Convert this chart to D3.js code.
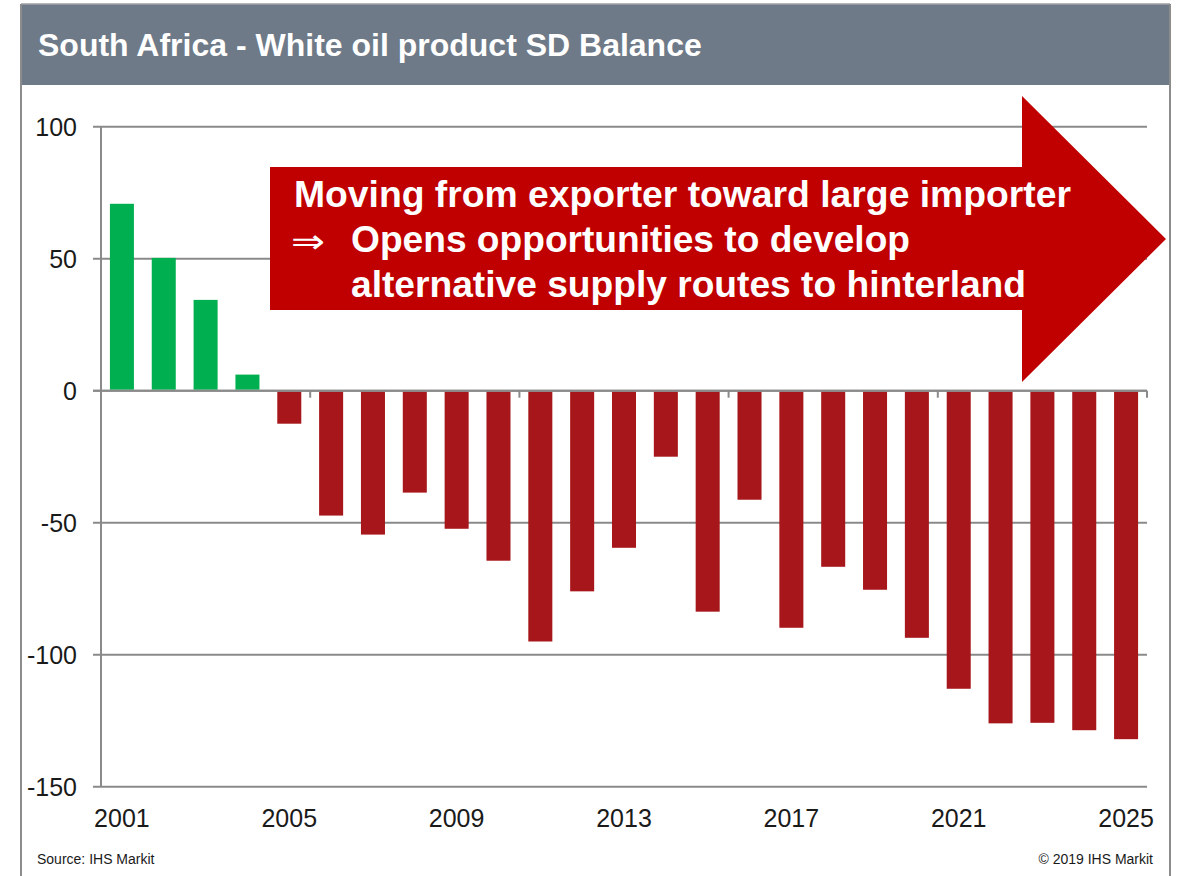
<!DOCTYPE html>
<html><head><meta charset="utf-8">
<script src="https://cdn.jsdelivr.net/npm/d3@7"></script>
<style>html,body{margin:0;padding:0;background:#fff;}svg{display:block;font-family:Arial,"Liberation Sans",sans-serif;}</style>
</head><body>
<svg id="chart" width="1181" height="876"></svg>
<script>
const years = d3.range(2001, 2026).map(String);
const balance = [70.8, 50.3, 34.4, 6.1, -12.5, -47.3, -54.5, -38.6, -52.3, -64.4, -95, -76, -59.5, -25, -83.7, -41.3, -89.8, -66.7, -75.4, -93.6, -112.9, -126, -125.8, -128.6, -132];
const yTicks = [100, 50, 0, -50, -100, -150];
const xLabels = ["2001","2005","2009","2013","2017","2021","2025"];
const titleText = "South Africa - White oil product SD Balance";
const arrowLines = ["Moving from exporter toward large importer", "Opens opportunities to develop", "alternative supply routes to hinterland"];
const sourceText = "Source: IHS Markit";
const copyrightText = "\u00A9 2019 IHS Markit";

const svg = d3.select("#chart");
const W = 1181, H = 876;
const plot = {left: 101, right: 1147, top: 126.7, bottom: 786.7};

// frame + title bar
svg.append("rect").attr("x", 21).attr("y", 4).attr("width", 1149).attr("height", 81).attr("fill", "#6E7A88");
svg.append("line").attr("x1", 21).attr("x2", 1170).attr("y1", 4).attr("y2", 4).attr("stroke", "#a0a0a0").attr("stroke-width", 1.5);
svg.append("line").attr("x1", 21).attr("x2", 21).attr("y1", 4).attr("y2", H).attr("stroke", "#8c8c8c").attr("stroke-width", 2);
svg.append("line").attr("x1", 1170).attr("x2", 1170).attr("y1", 4).attr("y2", H).attr("stroke", "#8c8c8c").attr("stroke-width", 2);
svg.append("text").attr("x", 38).attr("y", 56).attr("fill", "#fff").attr("font-size", 32).attr("font-weight", "bold").text(titleText);

const x = d3.scaleBand().domain(years).range([plot.left, plot.right]).paddingInner(0.426).paddingOuter(0.213);
const y = d3.scaleLinear().domain([-150, 100]).range([plot.bottom, plot.top]);

// gridlines
const gridColor = "#8a8a8a";
svg.append("g").selectAll("line").data(yTicks).join("line")
  .attr("x1", plot.left - 8).attr("x2", plot.right)
  .attr("y1", d => y(d)).attr("y2", d => y(d))
  .attr("stroke", gridColor).attr("stroke-width", 2);
// y axis line
svg.append("line").attr("x1", plot.left).attr("x2", plot.left).attr("y1", y(100)).attr("y2", y(-150)).attr("stroke", gridColor).attr("stroke-width", 2);
// y labels
svg.append("g").selectAll("text").data(yTicks).join("text")
  .attr("x", 77).attr("y", d => y(d) + 9).attr("text-anchor", "end")
  .attr("font-size", 25).attr("fill", "#1a1a1a").text(d => d);

// bars
svg.append("g").selectAll("rect").data(years.map((yr, i) => ({yr, v: balance[i]}))).join("rect")
  .attr("x", d => x(d.yr)).attr("width", x.bandwidth())
  .attr("y", d => d.v >= 0 ? y(d.v) : y(0) + 1)
  .attr("height", d => d.v >= 0 ? y(0) - y(d.v) - 1 : y(d.v) - y(0) - 1)
  .attr("fill", d => d.v >= 0 ? "#00B050" : "#A6161A");

// zero line on top
svg.append("line").attr("x1", plot.left - 8).attr("x2", plot.right).attr("y1", y(0)).attr("y2", y(0)).attr("stroke", gridColor).attr("stroke-width", 2);
// category ticks every 5 on zero line
const tickIdx = [5, 10, 15, 20, 25];
svg.append("g").selectAll("line").data(tickIdx).join("line")
  .attr("x1", i => plot.left + i * x.step()).attr("x2", i => plot.left + i * x.step())
  .attr("y1", y(0)).attr("y2", y(0) + 7).attr("stroke", gridColor).attr("stroke-width", 2);

// x labels
svg.append("g").selectAll("text").data(xLabels).join("text")
  .attr("x", d => x(d) + x.bandwidth() / 2).attr("y", 827).attr("text-anchor", "middle")
  .attr("font-size", 25).attr("fill", "#1a1a1a").text(d => d);

// arrow
const ap = [[270,167],[1022,167],[1022,96],[1166,239],[1022,382],[1022,310],[270,310]];
svg.append("path").attr("d", d3.line()(ap) + "Z").attr("fill", "#C00000");
const at = svg.append("g").attr("fill", "#fff").attr("font-weight", "bold").attr("font-size", 36);
at.append("text").attr("x", 294).attr("y", 207).attr("textLength", 777).attr("lengthAdjust", "spacingAndGlyphs").text(arrowLines[0]);
at.append("text").attr("x", 291).attr("y", 253).attr("font-family", "'DejaVu Sans'").attr("font-weight", "normal").attr("font-size", 34)
  .attr("textLength", 34).attr("lengthAdjust", "spacingAndGlyphs").text("\u21D2");
at.append("text").attr("x", 351).attr("y", 252).attr("textLength", 559).attr("lengthAdjust", "spacingAndGlyphs").text(arrowLines[1]);
at.append("text").attr("x", 351).attr("y", 297).attr("textLength", 675).attr("lengthAdjust", "spacingAndGlyphs").text(arrowLines[2]);

// footer
svg.append("text").attr("x", 37).attr("y", 864).attr("font-size", 14).attr("fill", "#1a1a1a").text(sourceText);
svg.append("text").attr("x", 1153).attr("y", 864).attr("text-anchor", "end").attr("font-size", 14).attr("fill", "#1a1a1a").text(copyrightText);
</script>
</body></html>
